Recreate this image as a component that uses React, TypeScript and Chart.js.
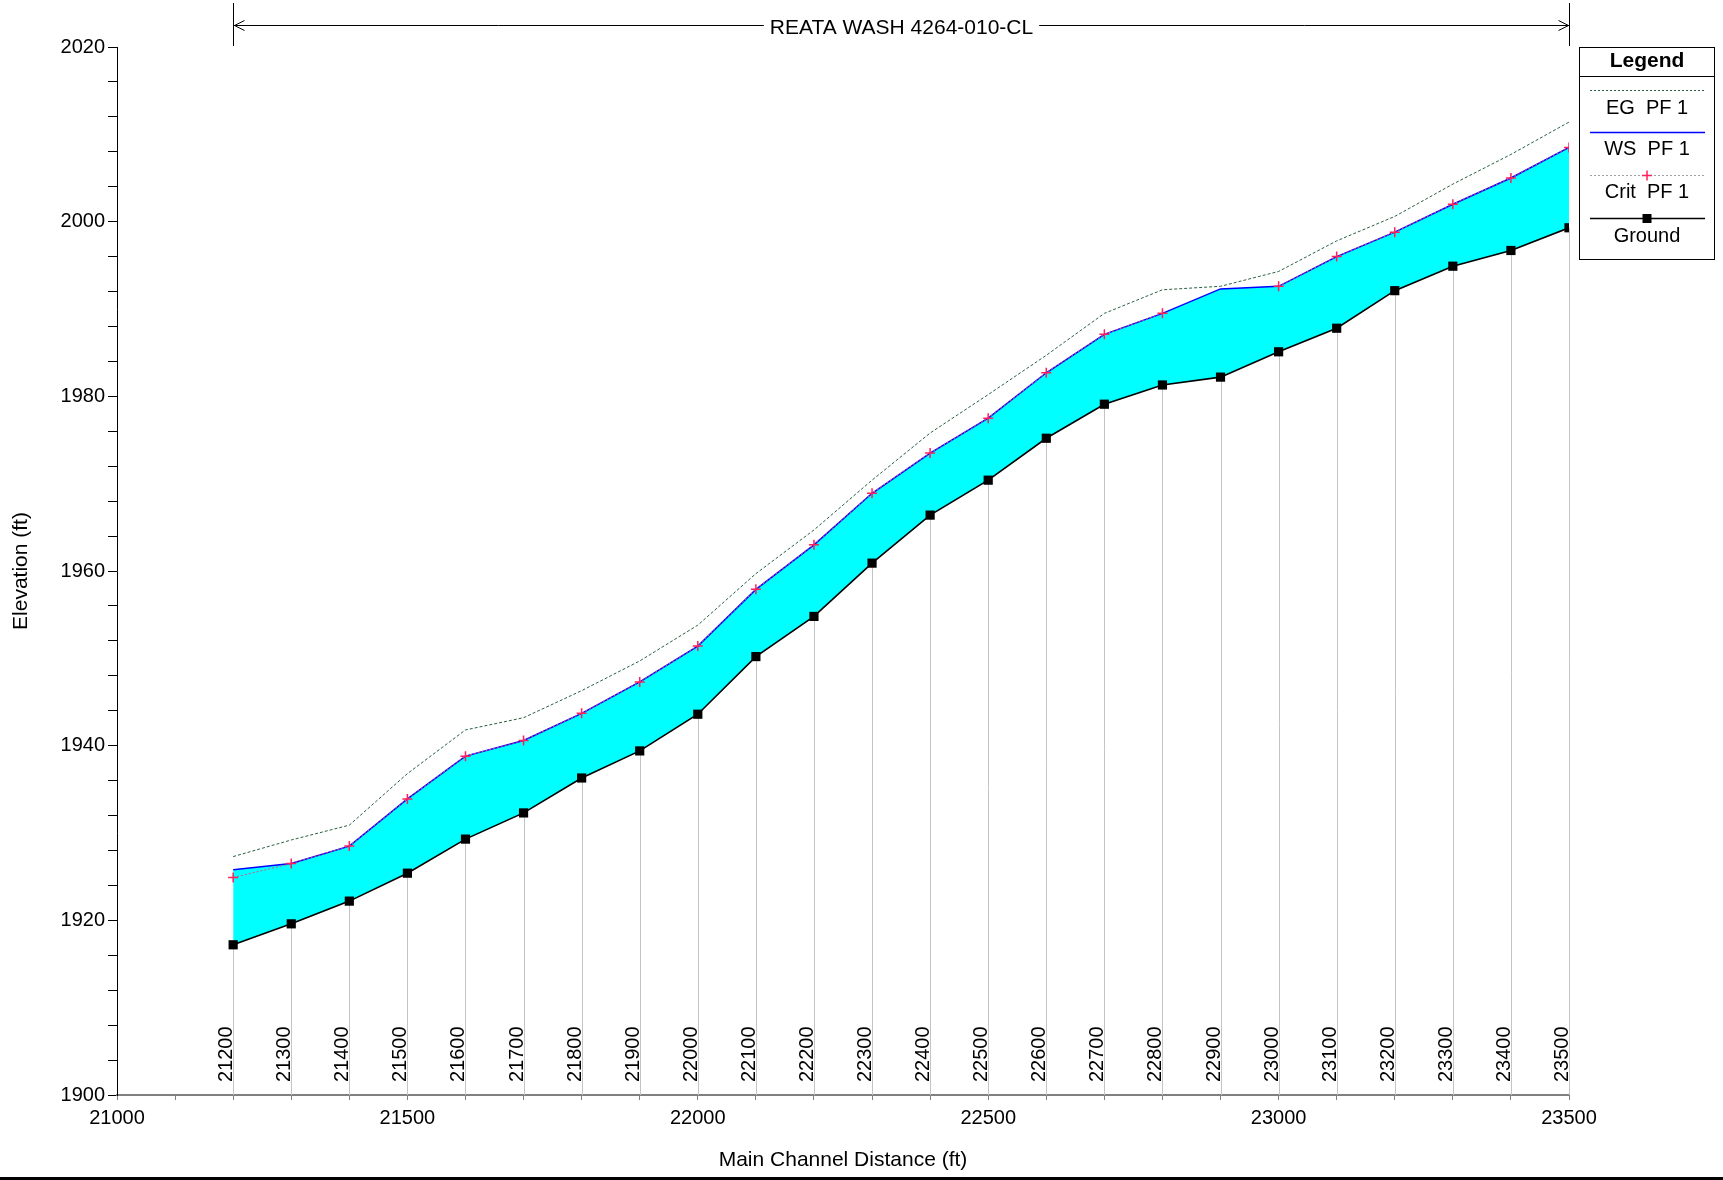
import React, { useEffect, useRef } from 'react';
import { Chart, registerables } from 'chart.js';

Chart.register(...registerables);

// ---------------- data ----------------
const stations = [
  21200, 21300, 21400, 21500, 21600, 21700, 21800, 21900, 22000, 22100, 22200, 22300,
  22400, 22500, 22600, 22700, 22800, 22900, 23000, 23100, 23200, 23300, 23400, 23500,
];
const groundElev = [
  1917.2, 1919.6, 1922.2, 1925.4, 1929.3, 1932.3, 1936.3, 1939.4, 1943.6, 1950.2, 1954.8, 1960.9,
  1966.4, 1970.4, 1975.2, 1979.1, 1981.3, 1982.2, 1985.1, 1987.8, 1992.1, 1994.9, 1996.7, 1999.3,
];
const wsElev = [
  1925.8, 1926.5, 1928.5, 1933.9, 1938.8, 1940.6, 1943.7, 1947.3, 1951.4, 1957.9, 1963.0, 1968.9,
  1973.5, 1977.5, 1982.7, 1987.1, 1989.5, 1992.3, 1992.6, 1996.0, 1998.8, 2002.0, 2005.0, 2008.5,
];
const critElev = [
  1924.9, 1926.5, 1928.5, 1933.9, 1938.8, 1940.6, 1943.7, 1947.3, 1951.4, 1957.9, 1963.0, 1968.9,
  1973.5, 1977.5, 1982.7, 1987.1, 1989.5, null, 1992.6, 1996.0, 1998.8, 2002.0, 2005.0, 2008.5,
];
const egElev = [
  1927.3, 1929.2, 1930.9, 1936.8, 1941.8, 1943.2, 1946.3, 1949.7, 1953.8, 1959.7, 1964.7, 1970.4,
  1975.8, 1980.2, 1984.7, 1989.5, 1992.2, 1992.6, 1994.3, 1997.8, 2000.6, 2004.3, 2007.7, 2011.4,
];
const xTickLabels = [21000, 21500, 22000, 22500, 23000, 23500];
const yTickLabels = [1900, 1920, 1940, 1960, 1980, 2000, 2020];
const reachTitle = 'REATA WASH 4264-010-CL';
const legendTitle = 'Legend';
const legendLabels = ['EG  PF 1', 'WS  PF 1', 'Crit  PF 1', 'Ground'];
const xTitle = 'Main Channel Distance (ft)';
const yTitle = 'Elevation (ft)';

// ---------------- styles ----------------
const FONT = '"Liberation Sans", Arial, sans-serif';
const EG_COLOR = '#2a6040';
const WS_COLOR = '#0000ff';
const CRIT_LINE_COLOR = '#e0507a';
const CRIT_MARK_COLOR = '#ff1f5a';
const FILL_COLOR = '#00ffff';

const pts = (vals: (number | null)[]) => stations.map((s, i) => ({ x: s, y: vals[i] }));

const extrasPlugin = {
  id: 'profileExtras',
  beforeDatasetsDraw(chart: any) {
    const { ctx, scales } = chart;
    const x = scales.x;
    const y = scales.y;
    ctx.save();
    // station lines from ground down to axis
    ctx.strokeStyle = '#c4c4c4';
    ctx.lineWidth = 1;
    stations.forEach((s, i) => {
      const px = Math.round(x.getPixelForValue(s)) + 0.5;
      ctx.beginPath();
      ctx.moveTo(px, y.getPixelForValue(groundElev[i]));
      ctx.lineTo(px, y.bottom);
      ctx.stroke();
    });
    // station labels
    ctx.fillStyle = '#000';
    ctx.font = `20px ${FONT}`;
    stations.forEach((s) => {
      const px = x.getPixelForValue(s);
      ctx.save();
      ctx.translate(px - 1, y.bottom - 13);
      ctx.rotate(-Math.PI / 2);
      ctx.textAlign = 'left';
      ctx.textBaseline = 'alphabetic';
      ctx.fillText(String(s), 0, 0);
      ctx.restore();
    });
    ctx.restore();
  },
  afterDraw(chart: any) {
    const { ctx, scales } = chart;
    const x = scales.x;
    ctx.save();
    // reach annotation on top
    const x0 = Math.round(x.getPixelForValue(stations[0])) + 0.5;
    const x1 = Math.round(x.getPixelForValue(stations[stations.length - 1])) + 0.5;
    const ly = 25.5;
    ctx.strokeStyle = '#000';
    ctx.lineWidth = 1;
    ctx.beginPath();
    ctx.moveTo(x0, 3);
    ctx.lineTo(x0, 46);
    ctx.moveTo(x1, 3);
    ctx.lineTo(x1, 46);
    ctx.stroke();
    ctx.font = `21px ${FONT}`;
    const tw = ctx.measureText(reachTitle).width;
    const cx = (x0 + x1) / 2;
    ctx.beginPath();
    ctx.moveTo(x0, ly);
    ctx.lineTo(cx - tw / 2 - 6, ly);
    ctx.moveTo(cx + tw / 2 + 6, ly);
    ctx.lineTo(x1, ly);
    // arrow heads
    ctx.moveTo(x0 + 11, ly - 5);
    ctx.lineTo(x0 + 1, ly);
    ctx.lineTo(x0 + 11, ly + 5);
    ctx.moveTo(x1 - 11, ly - 5);
    ctx.lineTo(x1 - 1, ly);
    ctx.lineTo(x1 - 11, ly + 5);
    ctx.stroke();
    ctx.fillStyle = '#000';
    ctx.textAlign = 'center';
    ctx.textBaseline = 'middle';
    ctx.fillText(reachTitle, cx, ly + 3);

    // legend box
    const bx = 1579.5, by = 47.5, bw = 135, bh = 212;
    ctx.fillStyle = '#fff';
    ctx.fillRect(bx, by, bw, bh);
    ctx.strokeStyle = '#000';
    ctx.strokeRect(bx, by, bw, bh);
    ctx.beginPath();
    ctx.moveTo(bx, 76.5);
    ctx.lineTo(bx + bw, 76.5);
    ctx.stroke();
    const lcx = bx + bw / 2;
    ctx.fillStyle = '#000';
    ctx.font = `bold 21px ${FONT}`;
    ctx.fillText(legendTitle, lcx, 61);
    ctx.font = `20px ${FONT}`;
    const lx0 = 1590, lx1 = 1705;
    const lineYs = [90.5, 132.5, 175.5, 218.5];
    const textYs = [108, 149, 192, 236];
    // EG
    ctx.save();
    ctx.strokeStyle = EG_COLOR;
    ctx.setLineDash([2, 2]);
    ctx.beginPath();
    ctx.moveTo(lx0, lineYs[0]);
    ctx.lineTo(lx1, lineYs[0]);
    ctx.stroke();
    ctx.restore();
    // WS
    ctx.strokeStyle = WS_COLOR;
    ctx.lineWidth = 1.5;
    ctx.beginPath();
    ctx.moveTo(lx0, lineYs[1]);
    ctx.lineTo(lx1, lineYs[1]);
    ctx.stroke();
    // Crit
    ctx.save();
    ctx.strokeStyle = '#a0a0a0';
    ctx.lineWidth = 1;
    ctx.setLineDash([2, 2]);
    ctx.beginPath();
    ctx.moveTo(lx0, lineYs[2]);
    ctx.lineTo(lx1, lineYs[2]);
    ctx.stroke();
    ctx.restore();
    ctx.strokeStyle = CRIT_MARK_COLOR;
    ctx.lineWidth = 1.5;
    ctx.beginPath();
    ctx.moveTo(lcx - 5, lineYs[2]);
    ctx.lineTo(lcx + 5, lineYs[2]);
    ctx.moveTo(lcx, lineYs[2] - 5);
    ctx.lineTo(lcx, lineYs[2] + 5);
    ctx.stroke();
    // Ground
    ctx.strokeStyle = '#000';
    ctx.lineWidth = 1.5;
    ctx.beginPath();
    ctx.moveTo(lx0, lineYs[3]);
    ctx.lineTo(lx1, lineYs[3]);
    ctx.stroke();
    ctx.fillStyle = '#000';
    ctx.fillRect(lcx - 4.5, lineYs[3] - 4.5, 9, 9);
    // legend texts
    legendLabels.forEach((t, i) => ctx.fillText(t, lcx, textYs[i]));

    // dark strip at the bottom of the image
    ctx.fillStyle = '#000';
    ctx.fillRect(0, 1177, chart.width, 3);
    ctx.restore();
  },
};

export default function App() {
  const ref = useRef<HTMLCanvasElement | null>(null);

  useEffect(() => {
    if (!ref.current) return;
    Chart.defaults.font.family = FONT;
    Chart.defaults.color = '#000';
    const chart = new Chart(ref.current, {
      type: 'line',
      data: {
        datasets: [
          {
            label: 'Crit PF 1 marks',
            data: pts(critElev),
            showLine: false,
            pointStyle: 'cross',
            pointRadius: 5,
            pointBorderWidth: 1.5,
            pointBorderColor: CRIT_MARK_COLOR,
            pointBackgroundColor: CRIT_MARK_COLOR,
          },
          {
            label: 'Crit PF 1',
            data: pts(critElev),
            borderColor: CRIT_LINE_COLOR,
            borderWidth: 1,
            borderDash: [2, 2],
            pointRadius: 0,
            spanGaps: false,
            fill: false,
          },
          {
            label: 'Ground',
            data: pts(groundElev),
            borderColor: '#000',
            borderWidth: 1.6,
            pointStyle: 'rect',
            pointRadius: 6.5,
            pointBorderWidth: 0,
            pointBackgroundColor: '#000',
            pointBorderColor: '#000',
            fill: false,
          },
          {
            label: 'WS PF 1',
            data: pts(wsElev),
            borderColor: WS_COLOR,
            borderWidth: 1.5,
            pointRadius: 0,
            backgroundColor: FILL_COLOR,
            fill: { target: 2, above: FILL_COLOR, below: FILL_COLOR },
          },
          {
            label: 'EG PF 1',
            data: pts(egElev),
            borderColor: EG_COLOR,
            borderWidth: 1,
            borderDash: [3, 2],
            pointRadius: 0,
            fill: false,
          },
        ],
      },
      options: {
        animation: false,
        responsive: false,
        maintainAspectRatio: false,
        layout: { padding: { left: 0, right: 154, top: 47, bottom: 0 } },
        plugins: {
          legend: { display: false },
          tooltip: { enabled: false },
          title: { display: false },
        },
        elements: { line: { tension: 0 } },
        scales: {
          x: {
            type: 'linear',
            min: 21000,
            max: 23500,
            afterFit: (s: any) => {
              s.height = 85;
            },
            ticks: {
              stepSize: 100,
              autoSkip: false,
              maxRotation: 0,
              padding: 6,
              color: '#000',
              font: { size: 20, family: FONT },
              callback: (v: any) => (xTickLabels.includes(Math.round(Number(v))) ? String(Math.round(Number(v))) : ''),
            },
            grid: { drawOnChartArea: false, drawTicks: true, tickLength: 5, color: '#808080' },
            border: { display: true, color: '#808080', width: 2 },
            title: {
              display: true,
              text: xTitle,
              color: '#000',
              font: { size: 21, family: FONT },
              padding: { top: 0, bottom: 7 },
            },
          },
          y: {
            type: 'linear',
            min: 1900,
            max: 2020,
            afterFit: (s: any) => {
              s.width = 117;
            },
            ticks: {
              stepSize: 4,
              autoSkip: false,
              padding: 3,
              color: '#000',
              font: { size: 20, family: FONT },
              callback: (v: any) => (yTickLabels.includes(Math.round(Number(v))) ? String(Math.round(Number(v))) : ''),
            },
            grid: { drawOnChartArea: false, drawTicks: true, tickLength: 9, color: '#000' },
            border: { display: true, color: '#000', width: 1 },
            title: {
              display: true,
              text: yTitle,
              color: '#000',
              font: { size: 21, family: FONT },
              padding: { top: 9, bottom: 0 },
            },
          },
        },
      },
      plugins: [extrasPlugin],
    });
    return () => chart.destroy();
  }, []);

  return (
    <div style={{ position: 'fixed', left: 0, top: 0, width: 1723, height: 1180, background: '#fff' }}>
      <canvas ref={ref} width={1723} height={1180} style={{ width: 1723, height: 1180, display: 'block' }} />
    </div>
  );
}
